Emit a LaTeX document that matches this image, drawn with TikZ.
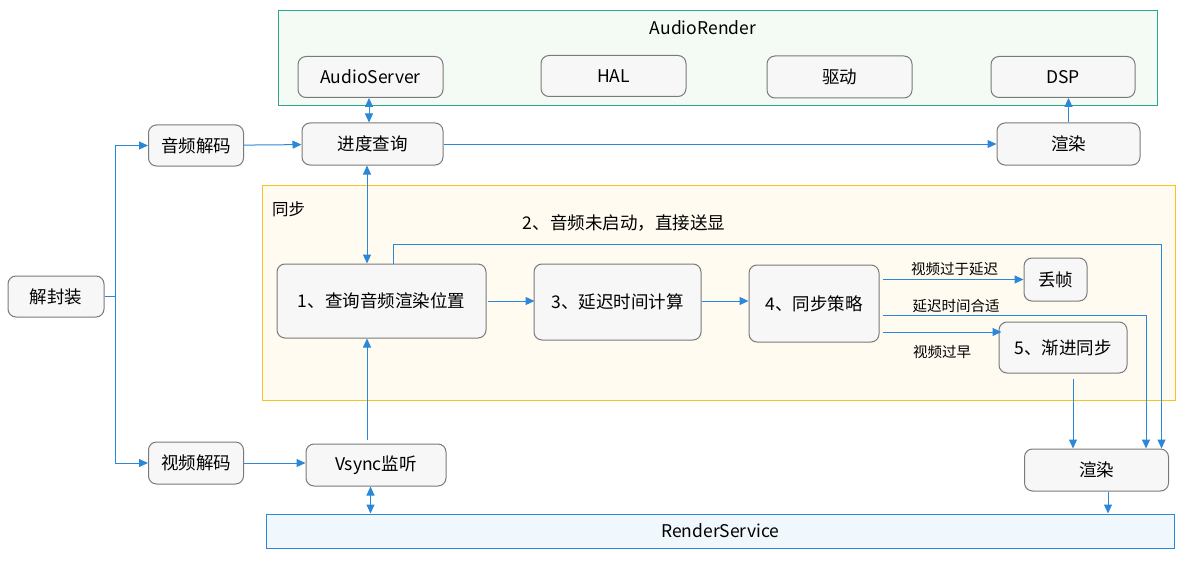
\documentclass[tikz,border=0pt]{standalone}
\usepackage{fontspec}
\setmainfont{Noto Sans CJK SC}
\usepackage{xcolor}
\usepackage{tikz}
\usetikzlibrary{shapes,arrows.meta,positioning,calc}

\definecolor{boxfill}{HTML}{F7F7F7}
\definecolor{boxline}{HTML}{7A7A7A}
\definecolor{flowblue}{HTML}{2B88D8}
\definecolor{audioline}{HTML}{2DA58E}
\definecolor{audiofill}{HTML}{F4FBF5}
\definecolor{syncline}{HTML}{F8C31C}
\definecolor{syncfill}{HTML}{FFFBF0}
\definecolor{rsfill}{HTML}{F0F8FE}

\begin{document}
\begin{tikzpicture}[x=1pt, y=-1pt,
    block/.style={rectangle, draw=boxline, fill=boxfill, line width=1pt, rounded corners=8pt, align=center, inner sep=0pt, font=\fontsize{17.5}{21}\selectfont},
    wh/.style 2 args={minimum width=#1pt, minimum height=#2pt},
    group/.style={rectangle, line width=1pt, inner sep=0pt},
    flow/.style={-{Triangle[length=9pt,width=8pt]}, draw=flowblue, line width=1pt},
    both/.style={{Triangle[length=9pt,width=8pt]}-{Triangle[length=9pt,width=8pt]}, draw=flowblue, line width=1pt},
    note/.style={inner sep=0pt, font=\fontsize{14.5}{17}\selectfont},
    title/.style={inner sep=0pt, font=\fontsize{17.5}{21}\selectfont}]

    \useasboundingbox (0,0) rectangle (1188,567);

    % Groups
    \node[group, draw=audioline, fill=audiofill, wh={879}{95}] (audio) at (717.5,58.5) {};
    \node[title] (audiotitle) at (703,28) {AudioRender};
    \node[group, draw=syncline, fill=syncfill, wh={913}{215}] (sync) at (718.5,292.5) {};
    \node[title, font=\fontsize{16.5}{20}\selectfont] (synctitle) at (288.5,209) {同步};
    \node[group, draw=flowblue, fill=rsfill, wh={908.5}{34}, font=\fontsize{17.5}{21}\selectfont] (rservice) at (720.25,531) {RenderService};

    % Top - AudioRender
    \node[block, wh={145}{41}] (aserver) at (370.5,77) {AudioServer};
    \node[block, wh={145}{41}] (hal) at (613.5,76) {HAL};
    \node[block, wh={145}{42}] (driver) at (839.5,77) {驱动};
    \node[block, wh={144}{41}] (dsp) at (1063,77) {DSP};

    % Left side - decoding
    \node[block, wh={96}{41}] (demux) at (56,296.5) {解封装};
    \node[block, wh={95}{41}] (adec) at (196,145.5) {音频解码};
    \node[block, wh={95}{42}] (vdec) at (196,463) {视频解码};
    \node[block, wh={141}{42}] (progress) at (372.5,144) {进度查询};
    \node[block, wh={143}{42}] (arender) at (1068.5,144) {渲染};
    \node[block, wh={140}{42}] (vsync) at (376,465) {Vsync监听};
    \node[block, wh={144}{42}] (vrender) at (1096.5,470) {渲染};

    % Sync steps
    \node[block, wh={209}{74}] (query) at (381.5,301) {1、查询音频渲染位置};
    \node[block, wh={167}{76}] (delay) at (617.5,302) {3、延迟时间计算};
    \node[block, wh={130}{77}] (policy) at (814,303.5) {4、同步策略};
    \node[block, wh={63}{43}] (drop) at (1055.5,279.5) {丢帧};
    \node[block, wh={128}{51}] (gradual) at (1063,347.5) {5、渐进同步};

    % Labels
    \node[title] (direct) at (624,223) {2、音频未启动，直接送显};
    \node[note] (late) at (954.5,269) {视频过于延迟};
    \node[note] (fit) at (956,306) {延迟时间合适};
    \node[note] (early) at (942,352) {视频过早};

    % Arrows
    \coordinate (split) at (115,296.5);
    \draw[draw=flowblue, line width=1pt] (demux.east) -- (split);
    \draw[flow] (split) |- (adec.west);
    \draw[flow] (split) |- (vdec.west);
    \draw[flow] (adec) -- (progress);
    \draw[flow] (vdec.east) -- (vdec.east -| vsync.west);
    \draw[both] ([xshift=-1.5pt]aserver.south) -- ([xshift=-1.5pt]aserver.south |- progress.north);
    \draw[flow] (progress.east) -- (progress.east -| arender.west);
    \draw[flow] (arender.north) -- (arender.north |- dsp.south);
    \draw[both] ([xshift=-5.5pt]progress.south) -- ([xshift=-5.5pt]progress.south |- query.north);
    \draw[flow] ([xshift=-9pt, yshift=4pt]vsync.north) -- ([xshift=-9pt]vsync.north |- query.south);
    \draw[both] ([xshift=-5.5pt]vsync.south) -- ([xshift=-5.5pt]vsync.south |- rservice.north);
    \draw[flow] ([xshift=1pt]query.east) -- ([xshift=1pt]query.east -| delay.west);
    \draw[flow] (delay.east |- query.east) -- (query.east -| policy.west);
    \draw[flow] ([xshift=11.5pt]query.north) -- ++(0,-19) -| ([xshift=65pt]vrender.north);
    \draw[flow] ([xshift=3pt]policy.east |- drop.west) -- (drop.west);
    \draw[flow] ([xshift=3pt, yshift=-11.5pt]policy.east) -| ([xshift=49.5pt]vrender.north);
    \draw[flow] ([xshift=3pt, yshift=-28.5pt]policy.east) -- ([xshift=3pt, yshift=-28.5pt]policy.east -| gradual.west);
    \draw[flow] ([xshift=10pt, yshift=-5pt]gradual.south) -- ([xshift=10pt]gradual.south |- vrender.north);
    \draw[flow] ([xshift=11.5pt]vrender.south) -- ([xshift=11.5pt]vrender.south |- rservice.north);

\end{tikzpicture}
\end{document}
